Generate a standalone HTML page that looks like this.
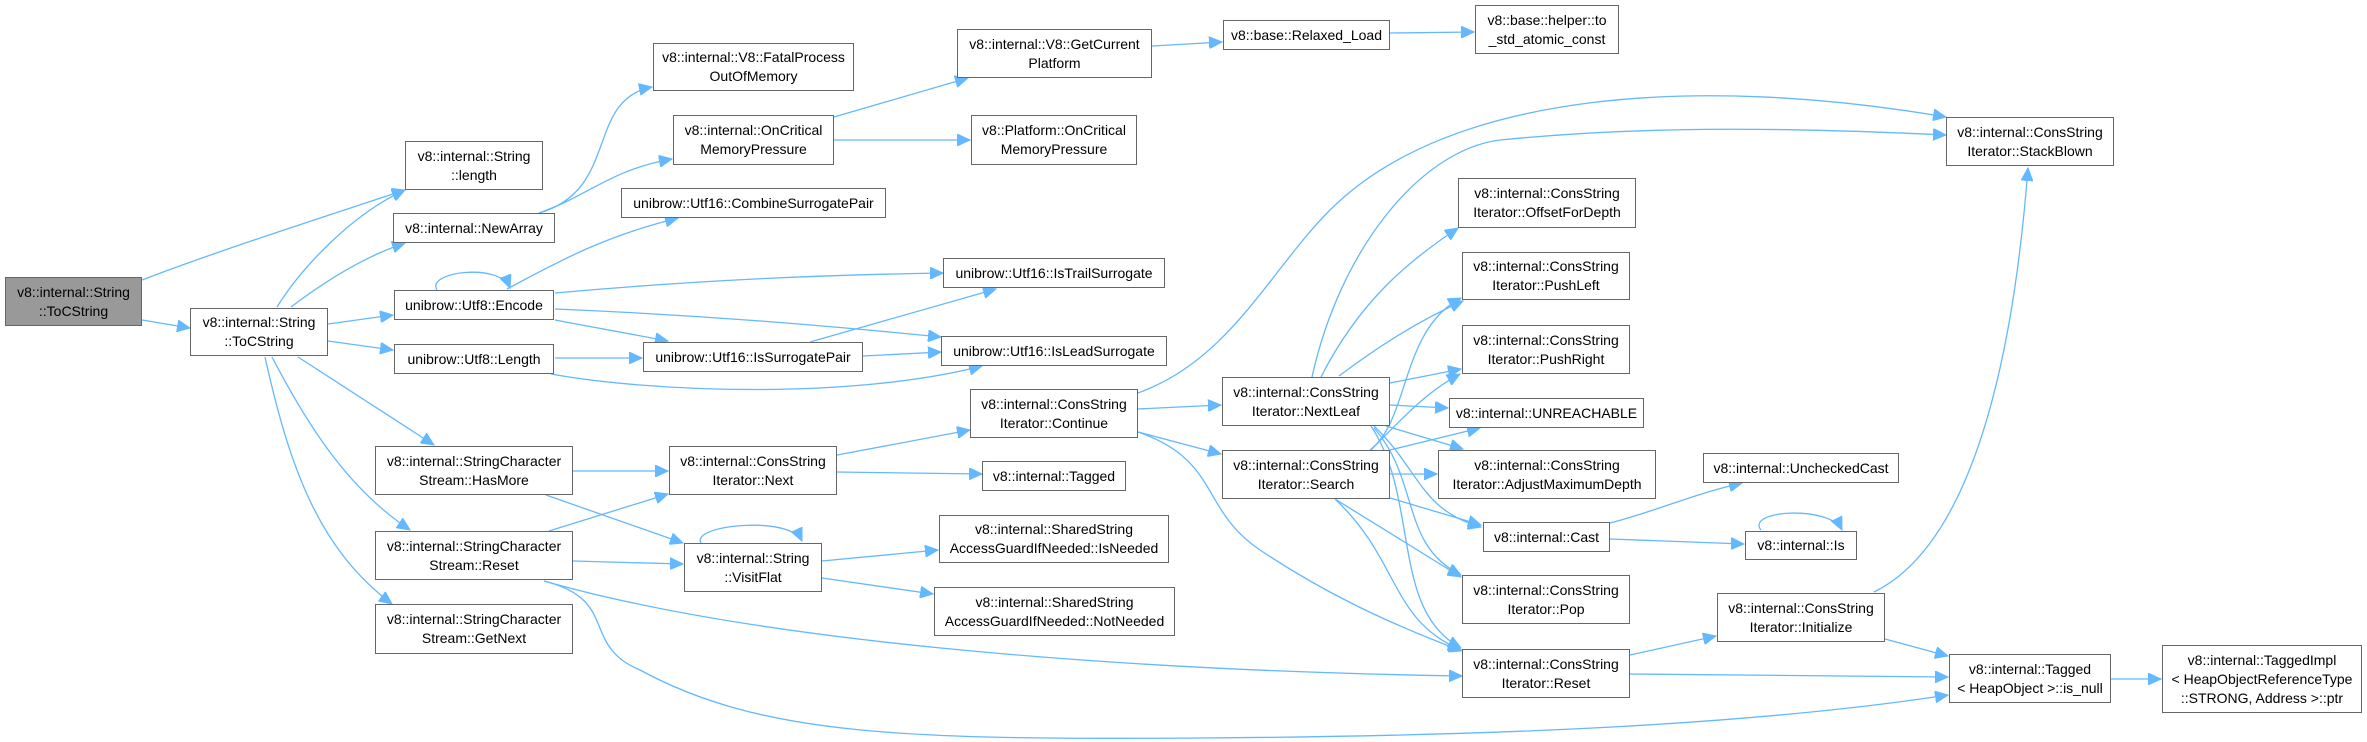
<!DOCTYPE html>
<html><head><meta charset="utf-8"><style>
body{margin:0;background:#fff;width:2367px;height:742px;position:relative;overflow:hidden;font-family:"Liberation Sans",sans-serif;}
.n{position:absolute;box-sizing:border-box;border:1.5px solid #666;background:#fff;font-size:14px;line-height:19px;color:#000;text-align:center;display:flex;align-items:center;justify-content:center;white-space:nowrap;}
.g{background:#999;}
svg{position:absolute;left:0;top:0;}
path{fill:none;stroke:#63b8ff;stroke-width:1.3;}
</style></head><body>
<svg width="2367" height="742" viewBox="0 0 2367 742">
<defs><marker id="a" markerUnits="userSpaceOnUse" markerWidth="14" markerHeight="12" refX="13" refY="6" orient="auto"><path d="M0,0 L13,6 L0,12 Z" style="fill:#63b8ff;stroke:#63b8ff;stroke-width:1"/></marker></defs>
<g marker-end="url(#a)">
<path d="M142,280 C220,250 330,215 405,190"/>
<path d="M142,320 L190,328"/>
<path d="M277,307 C300,270 350,215 405,190"/>
<path d="M291,307 C320,285 360,258 405,243"/>
<path d="M328,324 L393,315"/>
<path d="M328,341 L393,350"/>
<path d="M298,357 L434,445"/>
<path d="M272,357 C310,430 350,490 410,530"/>
<path d="M265,357 C290,470 320,550 392,604"/>
<path d="M539,213 C620,190 585,100 652,87"/>
<path d="M539,213 C590,195 610,170 672,159"/>
<path d="M437,290 C425,272 500,262 510,288"/>
<path d="M507,289 C570,255 610,235 678,218"/>
<path d="M555,293 C700,280 820,275 943,273"/>
<path d="M555,309 C700,315 820,325 941,337"/>
<path d="M555,320 L668,341"/>
<path d="M555,358 L642,358"/>
<path d="M551,374 C650,392 850,400 982,366"/>
<path d="M810,342 L996,289"/>
<path d="M863,356 L941,352"/>
<path d="M573,471 L668,471"/>
<path d="M546,495 L683,543"/>
<path d="M549,531 L668,494"/>
<path d="M573,561 L683,564"/>
<path d="M544,581 C750,640 1100,670 1462,676"/>
<path d="M544,581 C620,600 580,645 640,670 C760,735 900,740 1200,738 C1500,736 1750,725 1948,695"/>
<path d="M837,455 L970,430"/>
<path d="M837,472 L982,474"/>
<path d="M701,543 C690,525 790,515 802,541"/>
<path d="M822,561 L938,550"/>
<path d="M822,578 L933,594"/>
<path d="M834,117 L968,78"/>
<path d="M834,140 L970,140"/>
<path d="M1152,46 L1222,42"/>
<path d="M1390,33 L1474,32"/>
<path d="M1138,393 C1230,360 1270,270 1330,210 C1450,90 1700,75 1946,117"/>
<path d="M1138,409 L1221,405"/>
<path d="M1138,432 L1221,454"/>
<path d="M1138,432 C1220,460 1200,510 1260,550 C1320,590 1380,620 1462,651"/>
<path d="M1312,377 C1340,250 1420,150 1500,140 C1650,125 1800,128 1946,135"/>
<path d="M1321,377 C1360,300 1410,260 1458,228"/>
<path d="M1339,376 C1380,345 1420,320 1463,301"/>
<path d="M1390,383 L1461,369"/>
<path d="M1390,405 L1448,408"/>
<path d="M1386,426 L1463,449"/>
<path d="M1374,426 C1420,470 1420,510 1481,527"/>
<path d="M1374,428 C1420,480 1400,545 1461,575"/>
<path d="M1371,426 C1420,500 1390,610 1461,648"/>
<path d="M1370,450 C1410,420 1400,330 1461,298"/>
<path d="M1371,450 C1410,410 1430,390 1460,374"/>
<path d="M1390,450 L1480,428"/>
<path d="M1390,474 L1437,474"/>
<path d="M1390,498 L1481,525"/>
<path d="M1335,499 L1461,577"/>
<path d="M1335,499 C1400,560 1390,620 1461,650"/>
<path d="M1610,523 C1660,510 1690,495 1742,483"/>
<path d="M1610,539 L1744,544"/>
<path d="M1761,530 C1745,510 1830,505 1842,530"/>
<path d="M1630,655 L1716,636"/>
<path d="M1630,674 L1948,677"/>
<path d="M1874,592 C1960,550 2010,400 2028,168"/>
<path d="M1885,639 L1948,656"/>
<path d="M2111,679 L2161,679"/>
</g>
</svg>
<div class="n g" style="left:5px;top:277px;width:137px;height:49px">v8::internal::String<br>::ToCString</div>
<div class="n" style="left:190px;top:308px;width:138px;height:48px">v8::internal::String<br>::ToCString</div>
<div class="n" style="left:405px;top:141px;width:138px;height:49px">v8::internal::String<br>::length</div>
<div class="n" style="left:393px;top:213px;width:162px;height:30px">v8::internal::NewArray</div>
<div class="n" style="left:394px;top:290px;width:160px;height:30px">unibrow::Utf8::Encode</div>
<div class="n" style="left:394px;top:344px;width:160px;height:30px">unibrow::Utf8::Length</div>
<div class="n" style="left:375px;top:446px;width:198px;height:49px">v8::internal::StringCharacter<br>Stream::HasMore</div>
<div class="n" style="left:375px;top:531px;width:198px;height:49px">v8::internal::StringCharacter<br>Stream::Reset</div>
<div class="n" style="left:375px;top:604px;width:198px;height:50px">v8::internal::StringCharacter<br>Stream::GetNext</div>
<div class="n" style="left:653px;top:43px;width:201px;height:48px">v8::internal::V8::FatalProcess<br>OutOfMemory</div>
<div class="n" style="left:673px;top:115px;width:161px;height:50px">v8::internal::OnCritical<br>MemoryPressure</div>
<div class="n" style="left:621px;top:188px;width:265px;height:30px">unibrow::Utf16::CombineSurrogatePair</div>
<div class="n" style="left:643px;top:342px;width:220px;height:30px">unibrow::Utf16::IsSurrogatePair</div>
<div class="n" style="left:669px;top:446px;width:168px;height:49px">v8::internal::ConsString<br>Iterator::Next</div>
<div class="n" style="left:684px;top:543px;width:138px;height:49px">v8::internal::String<br>::VisitFlat</div>
<div class="n" style="left:957px;top:29px;width:195px;height:49px">v8::internal::V8::GetCurrent<br>Platform</div>
<div class="n" style="left:971px;top:115px;width:166px;height:50px">v8::Platform::OnCritical<br>MemoryPressure</div>
<div class="n" style="left:943px;top:258px;width:222px;height:30px">unibrow::Utf16::IsTrailSurrogate</div>
<div class="n" style="left:941px;top:336px;width:226px;height:30px">unibrow::Utf16::IsLeadSurrogate</div>
<div class="n" style="left:970px;top:389px;width:168px;height:49px">v8::internal::ConsString<br>Iterator::Continue</div>
<div class="n" style="left:982px;top:461px;width:144px;height:30px">v8::internal::Tagged</div>
<div class="n" style="left:939px;top:515px;width:230px;height:48px">v8::internal::SharedString<br>AccessGuardIfNeeded::IsNeeded</div>
<div class="n" style="left:934px;top:587px;width:241px;height:49px">v8::internal::SharedString<br>AccessGuardIfNeeded::NotNeeded</div>
<div class="n" style="left:1223px;top:20px;width:167px;height:30px">v8::base::Relaxed_Load</div>
<div class="n" style="left:1475px;top:5px;width:144px;height:49px">v8::base::helper::to<br>_std_atomic_const</div>
<div class="n" style="left:1222px;top:377px;width:168px;height:49px">v8::internal::ConsString<br>Iterator::NextLeaf</div>
<div class="n" style="left:1222px;top:450px;width:168px;height:49px">v8::internal::ConsString<br>Iterator::Search</div>
<div class="n" style="left:1458px;top:178px;width:178px;height:50px">v8::internal::ConsString<br>Iterator::OffsetForDepth</div>
<div class="n" style="left:1462px;top:252px;width:168px;height:48px">v8::internal::ConsString<br>Iterator::PushLeft</div>
<div class="n" style="left:1462px;top:325px;width:168px;height:49px">v8::internal::ConsString<br>Iterator::PushRight</div>
<div class="n" style="left:1449px;top:398px;width:195px;height:30px">v8::internal::UNREACHABLE</div>
<div class="n" style="left:1438px;top:450px;width:218px;height:49px">v8::internal::ConsString<br>Iterator::AdjustMaximumDepth</div>
<div class="n" style="left:1483px;top:522px;width:127px;height:30px">v8::internal::Cast</div>
<div class="n" style="left:1462px;top:575px;width:168px;height:49px">v8::internal::ConsString<br>Iterator::Pop</div>
<div class="n" style="left:1462px;top:649px;width:168px;height:49px">v8::internal::ConsString<br>Iterator::Reset</div>
<div class="n" style="left:1946px;top:117px;width:168px;height:49px">v8::internal::ConsString<br>Iterator::StackBlown</div>
<div class="n" style="left:1703px;top:453px;width:196px;height:30px">v8::internal::UncheckedCast</div>
<div class="n" style="left:1745px;top:531px;width:112px;height:29px">v8::internal::Is</div>
<div class="n" style="left:1717px;top:593px;width:168px;height:49px">v8::internal::ConsString<br>Iterator::Initialize</div>
<div class="n" style="left:1949px;top:654px;width:162px;height:49px">v8::internal::Tagged<br>&lt; HeapObject &gt;::is_null</div>
<div class="n" style="left:2162px;top:645px;width:200px;height:68px">v8::internal::TaggedImpl<br>&lt; HeapObjectReferenceType<br>::STRONG, Address &gt;::ptr</div>
</body></html>
